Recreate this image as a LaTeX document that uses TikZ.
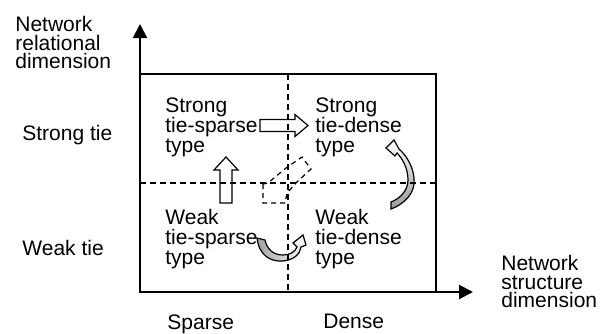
\documentclass[tikz,border=0pt]{standalone}
\usepackage{fontspec}
\setmainfont{Liberation Sans}
\usetikzlibrary{arrows.meta}
\begin{document}
\begin{tikzpicture}[x=0.5pt,y=-0.5pt,
  lbl/.style={anchor=north west,inner sep=0pt,align=left,font=\fontsize{10.5pt}{10pt}\selectfont},
  axlbl/.style={anchor=north west,inner sep=0pt,align=left,font=\fontsize{10.5pt}{9.3pt}\selectfont},
  axis/.style={line width=1pt,-{Triangle[length=7pt,width=7pt]}},
  frame/.style={line width=0.75pt},
  divider/.style={dash pattern=on 3pt off 2pt,line width=0.6pt},
  blockarrow/.style={draw=black,fill=white,line width=0.6pt,line join=miter},
  curvearrow/.style={draw=black,line width=0.6pt,line join=miter},
  dasharrow/.style={draw=black,dash pattern=on 2.5pt off 2pt,line width=0.6pt}]
\useasboundingbox (0,0) rectangle (600,333);

% frame and axes
\coordinate (O) at (140,292);
\coordinate (Ytip) at (140,24);
\coordinate (Xtip) at (473,292);
\coordinate (TR) at (436,74);
\draw[frame] (O) rectangle (TR);
\draw[axis] (O) -- (Ytip);
\draw[axis] (O) -- (Xtip);

% block arrows
\draw[blockarrow] (260,119.5) -- (295,119.5) -- (295,114.5) -- (308,125.5) -- (295,136.5) -- (295,131.5) -- (260,131.5) -- cycle;
\draw[blockarrow] (220,203) -- (220,170) -- (214,170) -- (226,157) -- (238,170) -- (232,170) -- (232,203) -- cycle;
\draw[dasharrow] (263,184) -- (263,203) -- (285,203) -- (287,193) -- (297,182) -- (311,169) -- (302,157) -- (286,168) -- (268,183) -- cycle;

% curved arrows
\shadedraw[curvearrow,left color=gray!75,right color=white]
  (257,238) .. controls (259,255) and (270,262) .. (283,261)
  .. controls (294,260) and (300,254) .. (301,247)
  -- (306,245) -- (303,235) -- (293,243) -- (297,247)
  .. controls (295,252) and (290,255) .. (283,255)
  .. controls (273,255) and (267,249) .. (265,240) -- cycle;
\shadedraw[curvearrow,top color=white,bottom color=gray!80]
  (391,209) .. controls (405,204) and (416,192) .. (414,178)
  .. controls (413,166) and (406,155) .. (399,149)
  -- (394,140) -- (386,148) -- (395,156) -- (397,153)
  .. controls (403,159) and (408,169) .. (408,180)
  .. controls (408,190) and (401,198) .. (391,202) -- cycle;

% dividers
\draw[divider] (140,183) -- (436,183);
\draw[divider] (288,74) -- (288,292);

% labels
\node[lbl] (sts) at (165,97) {Strong\\tie-sparse\\type};
\node[lbl] (std) at (315,97) {Strong\\tie-dense\\type};
\node[lbl] (wts) at (165,209) {Weak\\tie-sparse\\type};
\node[lbl] (wtd) at (315,209) {Weak\\tie-dense\\type};
\node[lbl] (st) at (22,125) {Strong tie};
\node[lbl] (wt) at (22,240) {Weak tie};
\node[lbl] (sp) at (167,314) {Sparse};
\node[lbl] (de) at (323,314) {Dense};
\node[axlbl] (yl) at (15,16) {Network\\relational\\dimension};
\node[axlbl] (xl) at (501,255) {Network\\structure\\dimension};
\end{tikzpicture}
\end{document}
